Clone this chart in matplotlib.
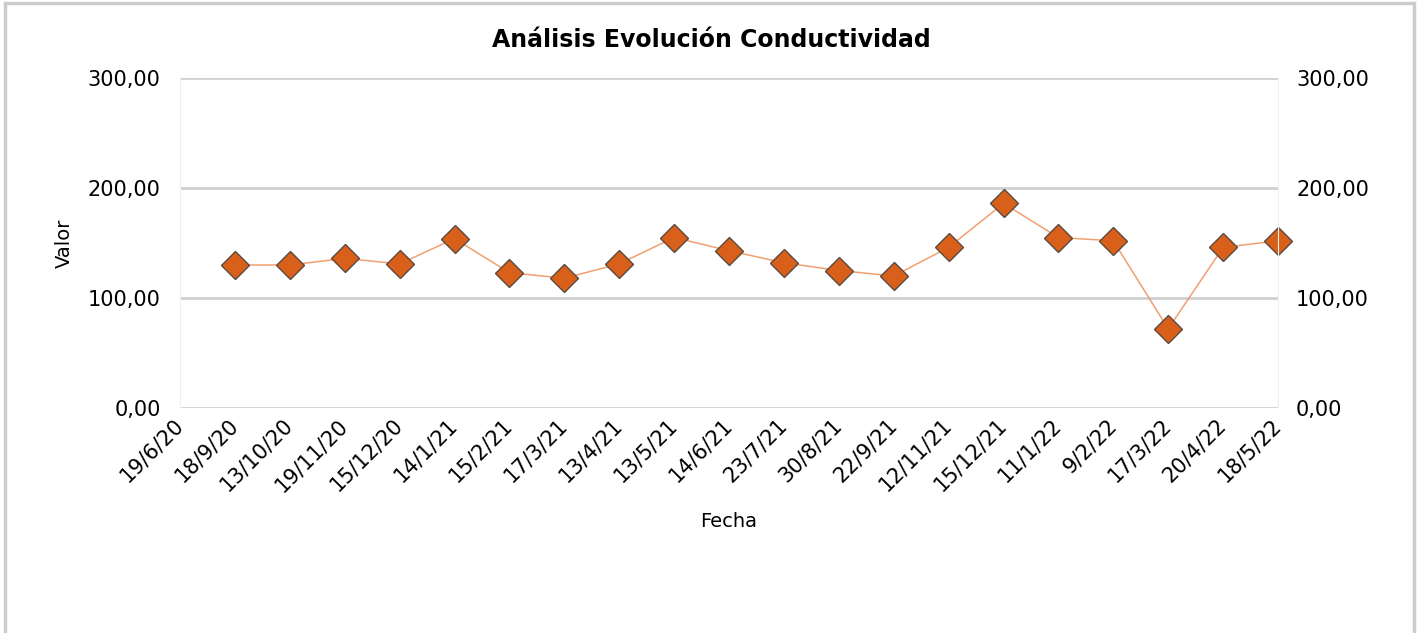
import matplotlib.pyplot as plt
import matplotlib.transforms as mtransforms
import numpy as np
from matplotlib.patches import Rectangle

fechas = ["19/6/20", "18/9/20", "13/10/20", "19/11/20", "15/12/20", "14/1/21",
          "15/2/21", "17/3/21", "13/4/21", "13/5/21", "14/6/21", "23/7/21",
          "30/8/21", "22/9/21", "12/11/21", "15/12/21", "11/1/22", "9/2/22",
          "17/3/22", "20/4/22", "18/5/22"]
# first date has no reading
valores = [np.nan, 130, 130, 136, 131, 154, 123, 118, 131, 155, 143, 132,
           125, 120, 146, 186, 155, 152, 72, 146, 152]
yticks = [0, 100, 200, 300]

dpi = 100
fig = plt.figure(figsize=(1422 / dpi, 633 / dpi), dpi=dpi)
fig.patches.append(Rectangle((5 / 1422, -0.01), 1409 / 1422, 1 - 3 / 633 + 0.01,
                             transform=fig.transFigure, fill=False,
                             edgecolor="#cccccc", linewidth=2.5))

ax = fig.add_axes([180 / 1422, (633 - 408) / 633, (1278 - 180) / 1422, 330 / 633])
x = np.arange(len(fechas))
ax.plot(x, valores, color="#f0a070", linewidth=1.1, zorder=3)
ax.plot(x, valores, linestyle="none", marker="D", markersize=14,
        markerfacecolor="#d9601a", markeredgecolor="#5a4a40", markeredgewidth=1.0,
        zorder=4, clip_on=False)

ax.set_xlim(0, len(fechas) - 1)
ax.set_ylim(0, 300)
ax.set_yticks(yticks)
ax.set_yticklabels([f"{v},00" for v in yticks], fontsize=15)
ax.yaxis.grid(True, color="#d0d0d0", linewidth=2)
ax.set_axisbelow(True)
ax.tick_params(axis="both", length=0)
ax.tick_params(axis="y", pad=14)
ax.tick_params(axis="x", pad=5)
ax.set_xticks(x)
ax.set_xticklabels(fechas, rotation=45, ha="right", rotation_mode="anchor", fontsize=15)
shift = mtransforms.ScaledTranslation(-7 / dpi, 0, fig.dpi_scale_trans)
for lbl in ax.get_xticklabels():
    lbl.set_transform(lbl.get_transform() + shift)
for s in ["top", "right", "bottom"]:
    ax.spines[s].set_visible(False)
ax.spines["left"].set_color("#f0f0f0")

ax2 = ax.twinx()
ax2.set_ylim(0, 300)
ax2.set_yticks(yticks)
ax2.set_yticklabels([f"{v},00" for v in yticks], fontsize=15)
ax2.tick_params(axis="y", length=0, pad=13)
for s in ["top", "left", "bottom"]:
    ax2.spines[s].set_visible(False)
ax2.spines["right"].set_color("#f0f0f0")

ax.set_ylabel("Valor", fontsize=14, labelpad=10)
ax.set_xlabel("Fecha", fontsize=14, labelpad=12)
fig.text(0.5, 1 - 40 / 633, "Análisis Evolución Conductividad", fontsize=17,
         fontweight="bold", ha="center", va="center")

plt.savefig("out.png", dpi=dpi)
